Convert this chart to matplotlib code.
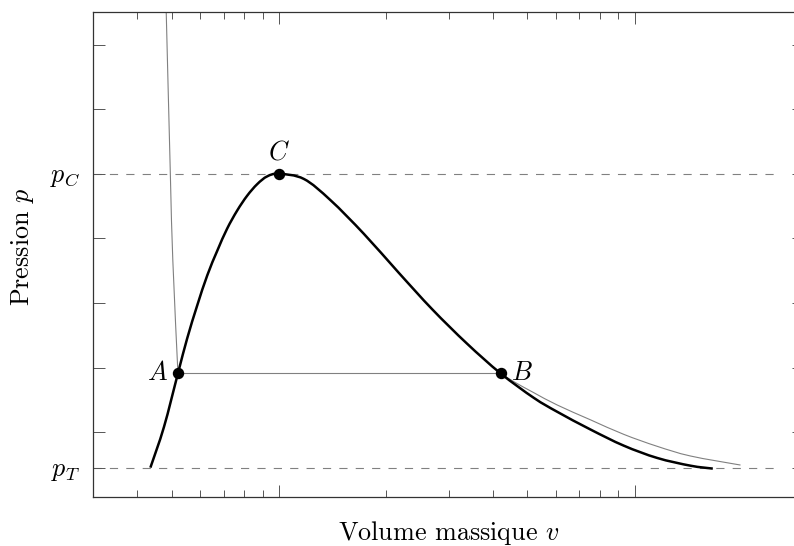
import matplotlib
matplotlib.use("Agg")
import matplotlib.pyplot as plt
from matplotlib.path import Path
from matplotlib.patches import PathPatch
import numpy as np

plt.rcParams['font.family'] = 'serif'
plt.rcParams['font.serif'] = ['cmr10']
plt.rcParams['mathtext.fontset'] = 'cm'
plt.rcParams['axes.unicode_minus'] = False
plt.rcParams['lines.scale_dashes'] = False

# ---- data ----
# saturation dome (specific volume, pressure)
dome_v = [4.35, 4.75, 5.20, 5.52, 5.89, 6.29, 6.71, 7.15, 7.63, 8.14, 8.69, 9.27, 10.0,
          11.75, 13.97, 17.33, 21.7, 27.0, 33.8,
          42.0, 52.1, 60.6, 75.2, 93.3, 115.8, 143.7, 166.0]
dome_p = [0.45, 1.08, 1.91, 2.45, 2.96, 3.43, 3.81, 4.15, 4.43, 4.66, 4.84, 4.96, 5.00,
          4.92, 4.59, 4.07, 3.47, 2.90, 2.37,
          1.91, 1.53, 1.315, 1.04, 0.79, 0.60, 0.48, 0.435]

# isotherm with the liquid-vapour plateau A-B
iso_v = [4.82, 4.95, 5.03, 5.20, 42.0, 45.8, 52.1, 60.6, 75.2, 93.3, 115.8, 143.7, 198.6]
iso_p = [7.50, 5.00, 3.66, 1.91, 1.91, 1.78, 1.61, 1.42, 1.19, 0.965, 0.78, 0.63, 0.49]

# remarkable points
pt_names = ['A', 'B', 'C']
pt_v = [5.20, 42.0, 10.0]
pt_p = [1.91, 1.91, 5.00]

p_C = 5.0
p_T = 0.45
ref_v = [3.0, 250.0]          # extent of the dashed reference lines

xlim = (3.0, 300.0)
ylim = (0.0, 7.5)
yticks_plain = [1, 2, 3, 4, 6, 7]
xticks_major = [10, 100]
xticks_minor = [4, 5, 6, 7, 8, 9, 20, 30, 40, 50, 60, 70, 80, 90]


def smooth_path(xs, ys):
    """Catmull-Rom style smooth rendering through the data (like pgfplots 'smooth')."""
    u = np.log10(np.asarray(xs, float))
    y = np.asarray(ys, float)
    P = np.column_stack([u, y])
    n = len(P)
    verts = [P[0]]
    codes = [Path.MOVETO]
    for i in range(n - 1):
        p0 = P[i - 1] if i > 0 else P[i]
        p1, p2 = P[i], P[i + 1]
        p3 = P[i + 2] if i + 2 < n else P[i + 1]
        c1 = p1 + (p2 - p0) / 6.0
        c2 = p2 - (p3 - p1) / 6.0
        verts += [c1, c2, p2]
        codes += [Path.CURVE4] * 3
    verts = np.array(verts)
    verts[:, 0] = 10 ** verts[:, 0]
    return Path(verts, codes)


# ---- figure ----
W, H = 794, 546
fig = plt.figure(figsize=(W / 100, H / 100), dpi=100)
left_px, bottom_px, top_px = 93.0, 496.7, 12.3
decade_px = 355.6
width_px = np.log10(xlim[1] / xlim[0]) * decade_px
height_px = bottom_px - top_px
ax = fig.add_axes([left_px / W, (H - bottom_px) / H, width_px / W, height_px / H])

ax.set_xscale('log')
ax.set_xlim(*xlim)
ax.set_ylim(*ylim)

FS = 18.8
gray = '#808080'

# dashed reference lines
ax.plot(ref_v, [p_C, p_C], color=gray, lw=0.8, linestyle=(0, (5.9, 5.9)), zorder=1)
ax.plot(ref_v, [p_T, p_T], color=gray, lw=0.8, linestyle=(0, (5.9, 5.9)), zorder=1)

# isotherm (thin gray): liquid branch, plateau, vapour branch
ax.add_patch(PathPatch(smooth_path(iso_v[0:4], iso_p[0:4]), fill=False,
                       edgecolor=gray, lw=0.8, zorder=2))
ax.plot(iso_v[3:5], iso_p[3:5], color=gray, lw=0.8, zorder=2)
ax.add_patch(PathPatch(smooth_path(iso_v[4:], iso_p[4:]), fill=False,
                       edgecolor=gray, lw=0.8, zorder=2))

# saturation dome (thick black)
ax.add_patch(PathPatch(smooth_path(dome_v, dome_p), fill=False,
                       edgecolor='black', lw=1.8, zorder=3))

# points
ax.plot(pt_v, pt_p, 'o', color='black', ms=7.2, zorder=4)
offsets = {'A': (-7.5, 0, 'right', 'center'),
           'B': (7.5, 0, 'left', 'center'),
           'C': (0, 7.0, 'center', 'bottom')}
for name, v, p in zip(pt_names, pt_v, pt_p):
    dx, dy, ha, va = offsets[name]
    ax.annotate('$' + name + '$', (v, p), xytext=(dx, dy), textcoords='offset points',
                ha=ha, va=va, fontsize=FS, zorder=5)

# ticks
ax.set_xticks(xticks_major)
ax.set_xticks(xticks_minor, minor=True)
ax.xaxis.set_major_formatter(matplotlib.ticker.NullFormatter())
ax.xaxis.set_minor_formatter(matplotlib.ticker.NullFormatter())
yt = [p_T] + yticks_plain[:4] + [p_C] + yticks_plain[4:]
ylabels = ['$p_T$', '', '', '', '', '$p_C$', '', '']
ax.set_yticks(yt)
ax.set_yticklabels(ylabels, fontsize=FS)
ax.tick_params(axis='both', which='major', direction='in', length=8.4, width=0.7,
               top=True, right=True, color='#555555', pad=9.5)
ax.tick_params(axis='both', which='minor', direction='in', length=5.3, width=0.7,
               top=True, right=True, color='#555555')
for s in ax.spines.values():
    s.set_linewidth(0.9)
    s.set_color('#333333')

ax.set_xlabel('Volume massique $v$', fontsize=FS)
ax.xaxis.set_label_coords((449 - left_px) / width_px, -(519 - bottom_px) / height_px)
ax.set_ylabel('Pression $p$', fontsize=FS)
ax.yaxis.set_label_coords((36 - left_px) / width_px, (bottom_px - 247) / height_px)

fig.savefig('out.png', dpi=100)
